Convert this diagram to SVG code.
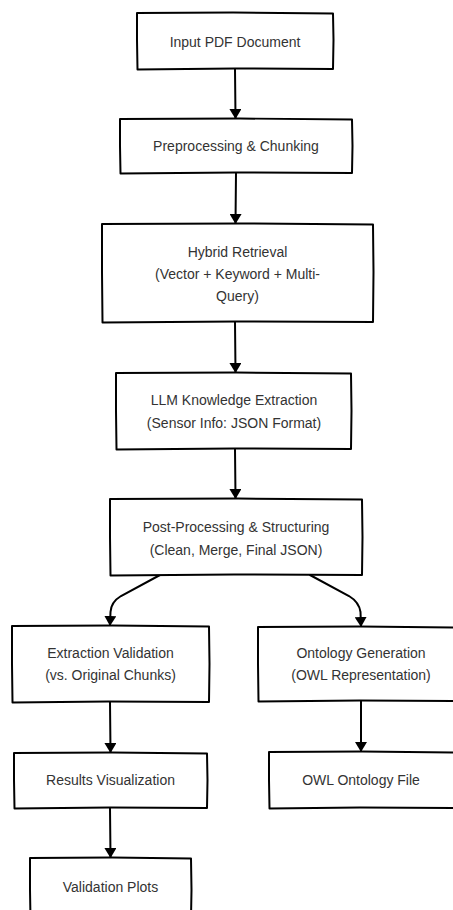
<svg xmlns="http://www.w3.org/2000/svg" width="453" height="910" viewBox="0 0 453 910">
  <style>
    .box { fill: #ffffff; stroke: #000000; stroke-width: 2; stroke-linejoin: round; stroke-linecap: round; }
    .label { font-family: "Liberation Sans", Arial, sans-serif; font-size: 14px; fill: #333333; text-anchor: middle; dominant-baseline: central; }
    .edge { fill: none; stroke: #000000; stroke-width: 2; stroke-linecap: round; }
  </style>
  <defs>
    <marker id="arrow" viewBox="0 0 10 12" refX="9" refY="6" markerWidth="10" markerHeight="12" markerUnits="userSpaceOnUse" orient="auto">
      <path d="M0,0 L10,6 L0,12 Z" fill="#000000"/>
    </marker>
  </defs>
  <rect width="453" height="910" fill="#ffffff"/>

  <!-- connectors -->
  <g id="edges">
    <path class="edge" d="M235,69 L235.5,118" marker-end="url(#arrow)"/>
    <path class="edge" d="M236,173 L235.5,223" marker-end="url(#arrow)"/>
    <path class="edge" d="M235,322 L235.5,372" marker-end="url(#arrow)"/>
    <path class="edge" d="M235,449 L235.5,498" marker-end="url(#arrow)"/>
    <path class="edge" d="M160,575 L121,596 Q111,602 110.5,612 L110,625" marker-end="url(#arrow)"/>
    <path class="edge" d="M310,575 L349,596 Q359,602 360.5,612 L361,626" marker-end="url(#arrow)"/>
    <path class="edge" d="M110,702 L110.5,752" marker-end="url(#arrow)"/>
    <path class="edge" d="M361,701 L361,751" marker-end="url(#arrow)"/>
    <path class="edge" d="M110,808 L110.5,857" marker-end="url(#arrow)"/>
  </g>

  <g id="input-pdf">
    <path class="box" d="M137,13 L233,12.5 L333,13.5 L333.5,40 L333,69 L235,68.5 L137.5,69.5 L137,40 Z"/>
    <text class="label" x="235" y="42">Input PDF Document</text>
  </g>

  <g id="preprocessing">
    <path class="box" d="M120,119 L240,118.5 L352,119.5 L352.5,146 L352,173 L236,172.5 L120.5,173.5 L120,146 Z"/>
    <text class="label" x="236" y="146">Preprocessing &amp; Chunking</text>
  </g>

  <g id="hybrid-retrieval">
    <path class="box" d="M102,224 L240,223.5 L373,224.5 L373.5,272 L373,322 L236,321.5 L102.5,322.5 L102,272 Z"/>
    <text class="label" x="237.5" y="252">Hybrid Retrieval</text>
    <text class="label" x="237.5" y="274">(Vector + Keyword + Multi-</text>
    <text class="label" x="237.5" y="296">Query)</text>
  </g>

  <g id="llm-extraction">
    <path class="box" d="M116,373 L236,372.5 L351,373.5 L351.5,411 L351,449 L234,448.5 L116.5,449.5 L116,411 Z"/>
    <text class="label" x="234" y="400">LLM Knowledge Extraction</text>
    <text class="label" x="234" y="423">(Sensor Info: JSON Format)</text>
  </g>

  <g id="post-processing">
    <path class="box" d="M110,499 L238,498.5 L362,499.5 L362.5,537 L362,575 L234,574.5 L110.5,575.5 L110,537 Z"/>
    <text class="label" x="236" y="527">Post-Processing &amp; Structuring</text>
    <text class="label" x="236" y="550">(Clean, Merge, Final JSON)</text>
  </g>

  <g id="extraction-validation">
    <path class="box" d="M12,626 L112,625.5 L209,626.5 L209.5,664 L209,702 L108,701.5 L12.5,702.5 L12,664 Z"/>
    <text class="label" x="110.5" y="653">Extraction Validation</text>
    <text class="label" x="110.5" y="675">(vs. Original Chunks)</text>
  </g>

  <g id="ontology-generation">
    <path class="box" d="M258,627 L360,626.5 L464,627.5 L464.5,664 L464,701 L360,700.5 L258.5,701.5 L258,664 Z"/>
    <text class="label" x="361" y="653">Ontology Generation</text>
    <text class="label" x="361" y="675">(OWL Representation)</text>
  </g>

  <g id="results-visualization">
    <path class="box" d="M14,753 L112,752.5 L207,753.5 L207.5,780 L207,808 L110,807.5 L14.5,808.5 L14,780 Z"/>
    <text class="label" x="110.5" y="780">Results Visualization</text>
  </g>

  <g id="owl-file">
    <path class="box" d="M269,752 L362,751.5 L456,752.5 L456.5,780 L456,808 L360,807.5 L269.5,808.5 L269,780 Z"/>
    <text class="label" x="361" y="780">OWL Ontology File</text>
  </g>

  <g id="validation-plots">
    <path class="box" d="M30,858 L112,857.5 L191,858.5 L191.5,890 L191,918 L110,917.5 L30.5,918.5 L30,890 Z"/>
    <text class="label" x="110.5" y="887">Validation Plots</text>
  </g>
</svg>
